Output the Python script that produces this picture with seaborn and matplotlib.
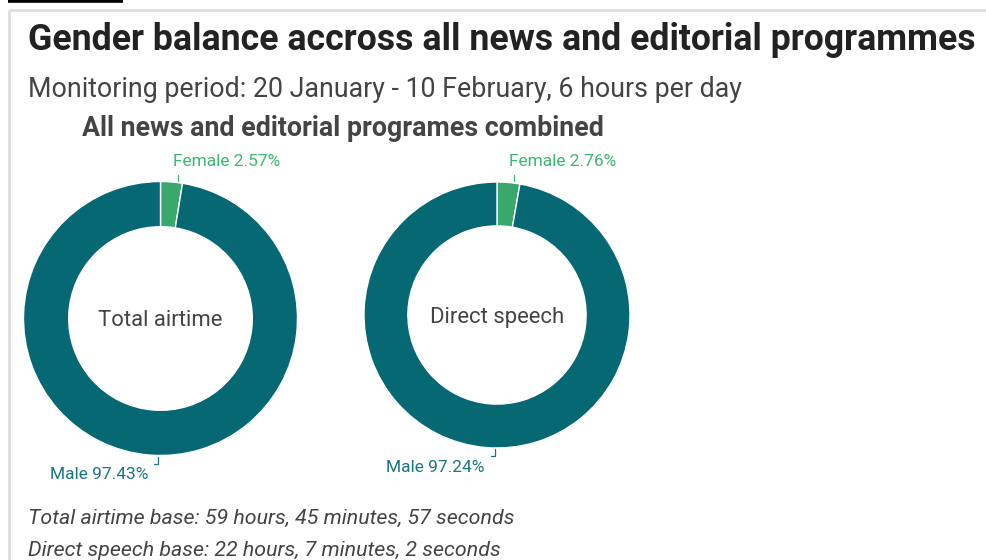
import matplotlib
matplotlib.use("Agg")
import matplotlib.pyplot as plt
import seaborn as sns

# --- data -------------------------------------------------------------
categories = ["Female", "Male"]
total_airtime = [2.57, 97.43]
direct_speech = [2.76, 97.24]
chart_names = ["Total airtime", "Direct speech"]

title = "Gender balance accross all news and editorial programmes"
subtitle = "Monitoring period: 20 January - 10 February, 6 hours per day"
heading = "All news and editorial programes combined"
notes = [
    "Total airtime base: 59 hours, 45 minutes, 57 seconds",
    "Direct speech base: 22 hours, 7 minutes, 2 seconds",
]

# --- style ------------------------------------------------------------
sns.set_theme(style="white")
plt.rcParams["font.family"] = ["Roboto", "DejaVu Sans"]

slice_colors = sns.color_palette(["#3aa76d", "#066872"])
label_colors = ["#3db873", "#1c7582"]
text_dark = "#222222"
text_grey = "#444444"

W, H = 986, 560
fig = plt.figure(figsize=(W / 100, H / 100), dpi=100)
fig.patch.set_facecolor("white")


def fx(x):
    return x / W


def fy(y):
    return 1 - y / H


# frame: black tab, grey border lines
frame = fig.add_axes([0, 0, 1, 1], zorder=-1)
frame.set_xlim(0, W)
frame.set_ylim(H, 0)
frame.axis("off")
frame.plot([8, 123], [1.2, 1.2], color="black", lw=2.6, solid_capstyle="butt")
frame.plot([9, W], [10, 10], color="#dddddd", lw=2, solid_capstyle="butt")
frame.plot([9, 9], [10, H], color="#dddddd", lw=2, solid_capstyle="butt")

# texts
fig.text(fx(28), fy(50), title, fontsize=25.7, fontweight="bold",
         color=text_dark, va="baseline", ha="left")
fig.text(fx(28), fy(97.5), subtitle, fontsize=19.3, color=text_grey,
         va="baseline", ha="left")
fig.text(fx(82), fy(136), heading, fontsize=19.3, fontweight="bold",
         color=text_grey, va="baseline", ha="left")
fig.text(fx(28), fy(524), notes[0], fontsize=15.4, style="italic",
         color=text_grey, va="baseline", ha="left")
fig.text(fx(28), fy(555.5), notes[1], fontsize=15.4, style="italic",
         color=text_grey, va="baseline", ha="left")

# donuts: (centre x, centre y, outer radius) in pixels
donuts = [
    (160.5, 318.5, 137.0, total_airtime, chart_names[0]),
    (497.0, 315.0, 133.0, direct_speech, chart_names[1]),
]

for cx, cy, r, values, name in donuts:
    ax = fig.add_axes([fx(cx - r), fy(cy + r), 2 * r / W, 2 * r / H])
    wedges, _ = ax.pie(values, radius=r, startangle=90, counterclock=False,
                       colors=slice_colors,
                       wedgeprops=dict(width=r * 0.33, edgecolor="white",
                                       linewidth=1.0))
    ax.set_xlim(-r, r)
    ax.set_ylim(-r, r)
    ax.axis("off")
    for w in wedges:
        w.set_clip_on(False)
    ax.text(0, -2, name, ha="center", va="center", fontsize=15.9,
            color=text_grey)

    # female label above the top-right of the ring
    fem_share, male_share = values
    fx_off = 17.2 * r / 137
    ax.plot([fx_off, fx_off], [r + 1, r + 7], color=label_colors[0],
            lw=0.9, clip_on=False)
    ax.text(fx_off - 5, r + 20, f"{categories[0]} {fem_share:.2f}%",
            ha="left", va="center", fontsize=12.5, color=label_colors[0],
            clip_on=False)

    # male label below the bottom with a small bracket
    mx = -2.5
    ax.plot([mx, mx, mx - 4], [-r - 1, -r - 8, -r - 8],
            color=label_colors[1], lw=0.9, clip_on=False)
    ax.text(mx - 10, -r - 19, f"{categories[1]} {male_share:.2f}%",
            ha="right", va="center", fontsize=12.5, color=label_colors[1],
            clip_on=False)

fig.savefig("out.png", dpi=100, facecolor="white")
